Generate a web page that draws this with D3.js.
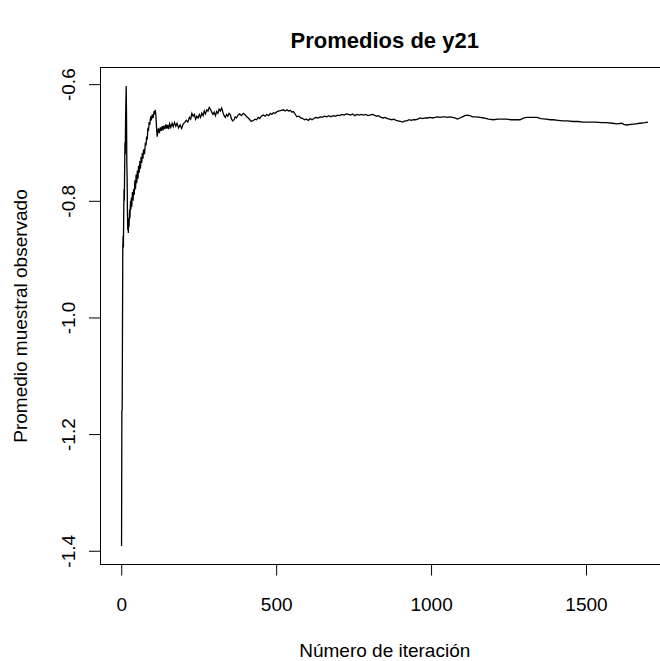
<!DOCTYPE html>
<html>
<head>
<meta charset="utf-8">
<script src="https://cdn.jsdelivr.net/npm/d3@7"></script>
<style>
  html, body { margin: 0; padding: 0; background: #fff; }
  svg { display: block; }
  text { font-family: "Liberation Sans", Arial, sans-serif; fill: #000; }
</style>
</head>
<body>
<svg id="chart" width="660" height="661"></svg>
<script>
// Running sample mean of y21 by iteration
const iterations = [
  1, 2, 3, 4, 5, 6, 7, 8, 9, 10, 11, 12, 13, 14, 15, 16, 17, 18, 19, 20,
  21, 22, 23, 24, 25, 27, 28, 30, 31, 33, 34, 36, 38, 40, 42, 44, 46, 48, 50, 52,
  54, 56, 58, 60, 62, 64, 66, 68, 70, 72, 75, 78, 80, 82, 84, 86, 88, 90, 92, 95,
  97, 100, 103, 106, 108, 110, 112, 114, 116, 118, 120, 123, 126, 129, 132, 135, 138, 141, 144, 147,
  150, 153, 156, 160, 164, 168, 172, 176, 180, 185, 190, 195, 200, 205, 210, 215, 220, 224, 228, 232,
  236, 240, 244, 248, 252, 256, 260, 264, 268, 272, 276, 280, 284, 288, 292, 296, 300, 304, 308, 312,
  316, 320, 324, 328, 332, 336, 340, 344, 348, 352, 356, 360, 364, 368, 372, 377, 382, 388, 394, 399,
  405, 410, 415, 420, 427, 432, 437, 442, 447, 452, 459, 464, 470, 476, 481, 486, 491, 497, 503, 510,
  517, 524, 529, 535, 540, 546, 551, 556, 562, 567, 573, 580, 586, 592, 598, 604, 610, 616, 622, 628,
  635, 642, 649, 656, 663, 670, 677, 684, 691, 698, 705, 712, 719, 726, 733, 740, 747, 754, 761, 768,
  775, 782, 789, 796, 803, 810, 817, 824, 831, 838, 845, 852, 859, 866, 873, 880, 887, 894, 901, 908,
  915, 922, 929, 936, 943, 950, 957, 965, 973, 981, 989, 997, 1005, 1013, 1021, 1029, 1037, 1045, 1053, 1061,
  1069, 1077, 1085, 1093, 1101, 1109, 1117, 1125, 1135, 1145, 1158, 1170, 1185, 1201, 1215, 1230, 1244, 1258, 1272, 1287,
  1300, 1309, 1325, 1341, 1355, 1370, 1385, 1395, 1410, 1425, 1440, 1459, 1475, 1490, 1513, 1530, 1550, 1567, 1585, 1600,
  1615, 1622, 1631, 1645, 1660, 1674, 1690, 1700
];
const means = [
  -1.392, -1.159, -1.16, -1.02, -0.88, -0.86, -0.88, -0.82, -0.78, -0.80, -0.74, -0.70, -0.72, -0.66, -0.63, -0.603, -0.65, -0.735, -0.76, -0.82,
  -0.850, -0.835, -0.855, -0.830, -0.845, -0.815, -0.830, -0.800, -0.815, -0.795, -0.810, -0.785, -0.800, -0.780, -0.790, -0.765, -0.780, -0.755, -0.770, -0.748,
  -0.762, -0.740, -0.752, -0.732, -0.745, -0.725, -0.735, -0.718, -0.728, -0.712, -0.720, -0.700, -0.705, -0.690, -0.695, -0.675, -0.680, -0.665, -0.670, -0.655,
  -0.662, -0.652, -0.658, -0.646, -0.652, -0.644, -0.655, -0.675, -0.690, -0.682, -0.676, -0.684, -0.674, -0.680, -0.672, -0.679, -0.671, -0.677, -0.669, -0.676,
  -0.670, -0.677, -0.668, -0.674, -0.667, -0.673, -0.666, -0.672, -0.667, -0.675, -0.670, -0.676, -0.668, -0.666, -0.662, -0.665, -0.657, -0.660, -0.650, -0.655,
  -0.652, -0.660, -0.655, -0.658, -0.652, -0.657, -0.650, -0.654, -0.646, -0.651, -0.644, -0.646, -0.640, -0.643, -0.648, -0.652, -0.648, -0.654, -0.647, -0.650,
  -0.643, -0.646, -0.641, -0.648, -0.654, -0.657, -0.652, -0.655, -0.650, -0.652, -0.660, -0.663, -0.661, -0.656, -0.658, -0.653, -0.651, -0.654, -0.650, -0.652,
  -0.656, -0.658, -0.661, -0.664, -0.662, -0.660, -0.661, -0.657, -0.659, -0.655, -0.653, -0.655, -0.652, -0.654, -0.650, -0.652, -0.649, -0.650, -0.647, -0.646,
  -0.645, -0.644, -0.646, -0.644, -0.646, -0.645, -0.648, -0.647, -0.652, -0.656, -0.655, -0.658, -0.659, -0.661, -0.660, -0.662, -0.659, -0.661, -0.659, -0.657,
  -0.658, -0.656, -0.657, -0.655, -0.656, -0.654, -0.656, -0.654, -0.655, -0.653, -0.654, -0.652, -0.653, -0.651, -0.652, -0.653, -0.651, -0.654, -0.652, -0.653,
  -0.652, -0.653, -0.652, -0.654, -0.653, -0.652, -0.653, -0.655, -0.654, -0.657, -0.658, -0.657, -0.659, -0.660, -0.661, -0.660, -0.662, -0.663, -0.664, -0.665,
  -0.663, -0.663, -0.661, -0.662, -0.661, -0.661, -0.660, -0.658, -0.659, -0.658, -0.658, -0.657, -0.658, -0.657, -0.656, -0.657, -0.656, -0.656, -0.657, -0.656,
  -0.657, -0.658, -0.660, -0.658, -0.656, -0.654, -0.653, -0.654, -0.656, -0.656, -0.657, -0.658, -0.660, -0.661, -0.660, -0.660, -0.660, -0.661, -0.661, -0.661,
  -0.658, -0.657, -0.657, -0.657, -0.659, -0.660, -0.661, -0.661, -0.662, -0.663, -0.663, -0.664, -0.664, -0.665, -0.665, -0.665, -0.666, -0.666, -0.667, -0.668,
  -0.667, -0.669, -0.670, -0.669, -0.668, -0.667, -0.666, -0.665
];
const xTicks = [0, 500, 1000, 1500];
const yTicks = [-1.4, -1.2, -1.0, -0.8, -0.6];
const yTickLabels = ["-1.4", "-1.2", "-1.0", "-0.8", "-0.6"];

const svg = d3.select("#chart");
const plot = { left: 100.5, right: 669, top: 67.5, bottom: 564.5 };

// Axis ranges padded by 4% on each side of the data extent
const xExt = d3.extent(iterations);
const yExt = d3.extent(means);
const xPad = (xExt[1] - xExt[0]) * 0.04;
const yPad = (yExt[1] - yExt[0]) * 0.04;

const x = d3.scaleLinear().domain([xExt[0] - xPad, xExt[1] + xPad]).range([plot.left, plot.right]);
const y = d3.scaleLinear().domain([yExt[0] - yPad, yExt[1] + yPad]).range([plot.bottom, plot.top]);

const data = iterations.map((it, i) => ({ it, m: means[i] }));

// Series line
svg.append("path")
  .datum(data)
  .attr("fill", "none")
  .attr("stroke", "#000")
  .attr("stroke-width", 1.3)
  .attr("stroke-linejoin", "miter")
  .attr("d", d3.line().x(d => x(d.it)).y(d => y(d.m)));

// Plot frame
svg.append("rect")
  .attr("x", plot.left).attr("y", plot.top)
  .attr("width", plot.right - plot.left).attr("height", plot.bottom - plot.top)
  .attr("fill", "none").attr("stroke", "#000").attr("stroke-width", 1);

// Bottom axis
const xAxis = svg.append("g")
  .attr("transform", `translate(0,${plot.bottom})`)
  .call(d3.axisBottom(x).tickValues(xTicks).tickSize(11).tickPadding(22).tickSizeOuter(0).tickFormat(d3.format("d")));
xAxis.select(".domain").remove();
xAxis.selectAll("line").attr("stroke", "#000");
xAxis.selectAll("text").attr("font-size", 19).attr("font-family", "Liberation Sans, Arial, sans-serif");

// Left axis with rotated labels
const yAxis = svg.append("g")
  .attr("transform", `translate(${plot.left},0)`)
  .call(d3.axisLeft(y).tickValues(yTicks).tickSize(11.5).tickSizeOuter(0).tickFormat((d, i) => yTickLabels[i]));
yAxis.select(".domain").remove();
yAxis.selectAll("line").attr("stroke", "#000");
yAxis.selectAll("text")
  .attr("font-size", 19)
  .attr("font-family", "Liberation Sans, Arial, sans-serif")
  .attr("text-anchor", "middle")
  .attr("dy", null)
  .attr("x", null)
  .attr("transform", "translate(-25.5,0) rotate(-90)");

// Title and axis titles
svg.append("text")
  .attr("x", (plot.left + plot.right) / 2).attr("y", 48)
  .attr("text-anchor", "middle").attr("font-size", 22).attr("font-weight", "bold")
  .text("Promedios de y21");

svg.append("text")
  .attr("x", (plot.left + plot.right) / 2).attr("y", 657)
  .attr("text-anchor", "middle").attr("font-size", 19)
  .text("Número de iteración");

svg.append("text")
  .attr("transform", `translate(27,${(plot.top + plot.bottom) / 2}) rotate(-90)`)
  .attr("text-anchor", "middle").attr("font-size", 19)
  .text("Promedio muestral observado");
</script>
</body>
</html>
